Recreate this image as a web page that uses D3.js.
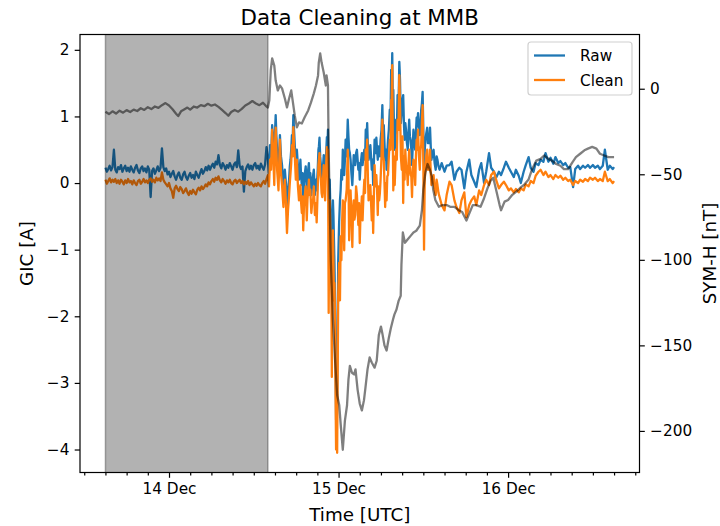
<!DOCTYPE html>
<html><head><meta charset="utf-8">
<script src="https://cdn.jsdelivr.net/npm/d3@7"></script>
<style>
body{margin:0;background:#fff}
svg{display:block}
text{font-family:"DejaVu Sans",sans-serif;fill:#000}
</style>
</head><body><svg id="chart" width="720" height="526"></svg>
<script>
// ---------------- data ----------------
const chartTitle = "Data Cleaning at MMB";
const xLabel = "Time [UTC]";
const yLeftLabel = "GIC [A]";
const yRightLabel = "SYM-H [nT]";
const seriesNames = ["Raw", "Clean"];
const startTime = "2006-12-13T15:00:00Z";   // hours below are counted from here
const flaggedSpanHours = [0, 23];            // shaded (removed) interval

const gicHours = [
 0,0.2,0.4,0.6,0.8,1.0,1.2,1.4,1.6,1.8, 2.0,2.2,2.4,2.6,2.8,3.0,3.2,3.4,3.6,3.8,
 4.0,4.2,4.4,4.6,4.8,5.0,5.2,5.4,5.6,5.8, 6.0,6.2,6.4,6.6,6.8,7.0,7.2,7.4,7.6,7.8,
 8.0,8.2,8.4,8.6,8.8,9.0,9.2,9.4,9.6,9.8, 10.0,10.2,10.4,10.6,10.8,11.0,11.2,11.4,11.6,11.8,
 12.0,12.2,12.4,12.6,12.8,13.0,13.2,13.4,13.6,13.8, 14.0,14.2,14.4,14.6,14.8,15.0,15.2,15.4,15.6,15.8,
 16.0,16.2,16.4,16.6,16.8,17.0,17.2,17.4,17.6,17.8, 18.0,18.2,18.4,18.6,18.8,19.0,19.2,19.4,19.6,19.8,
 20.0,20.2,20.4,20.6,20.8,21.0,21.2,21.4,21.6,21.8, 22.0,22.2,22.4,22.6,22.8,
 23.0,23.15,23.3,23.45,23.6,23.75,23.9,24.0,24.1,24.2, 24.3,24.4,24.5,24.6,24.7,24.85,25.0,25.1,25.2,25.3,
 25.4,25.55,25.7,25.85,26.0,26.1,26.2,26.3,26.4,26.5, 26.6,26.7,26.8,26.95,27.1,27.25,27.4,27.5,27.6,27.7,
 27.8,27.9,28.0,28.1,28.2,28.35,28.5,28.6,28.7,28.8, 28.9,29.0,29.15,29.3,29.4,29.5,29.65,29.8,29.9,30.05,
 30.15,30.22,30.3,30.4,30.5,30.6,30.7,30.8,30.9,31.0, 31.1,31.22,31.35,31.42,31.5,31.55,31.6,31.68,31.75,31.82,
 31.9,31.98,32.05,32.12,32.2,32.28,32.35,32.42,32.5,32.58, 32.65,32.72,32.8,32.88,32.95,33.08,33.2,33.3,33.4,33.5,
 33.6,33.7,33.8,33.9,34.0,34.15,34.3,34.4,34.5,34.6, 34.7,34.82,34.95,35.05,35.15,35.25,35.35,35.48,35.6,35.7,
 35.8,35.9,36.0,36.1,36.2,36.3,36.4,36.52,36.65,36.75, 36.85,36.95,37.05,37.15,37.25,37.38,37.5,37.6,37.7,37.8,
 37.9,38.0,38.1,38.22,38.35,38.45,38.55,38.65,38.75,38.85, 38.95,39.08,39.2,39.3,39.4,39.5,39.6,39.7,39.8,39.9,
 40.0,40.12,40.25,40.35,40.45,40.52,40.6,40.68,40.75,40.85, 40.95,41.05,41.15,41.25,41.35,41.48,41.6,41.65,41.7,41.82,
 41.95,42.05,42.15,42.25,42.35,42.45,42.55,42.68,42.8,42.9, 43.0,43.1,43.2,43.3,43.4,43.5,43.6,43.72,43.85,43.95,
 44.05,44.15,44.25,44.38,44.5,44.6,44.7,44.8,44.9,45.0, 45.1,45.2,45.3,45.42,45.55,45.65,45.75,45.85,45.95,46.05,
 46.15,46.3,46.45,46.6,46.75,46.88,47.0,47.15,47.3,
 47.6,48.0,48.3,48.7,49.0,49.4,49.7,50.1,50.4,50.8, 51.1,51.5,51.8,52.2,52.5,52.9,53.2,53.6,53.9,54.3,
 54.6,55.0,55.3,55.7,56.0,56.4,56.7,57.1,57.4,57.8, 58.1,58.5,58.8,59.2,59.5,59.9,60.2,60.6,60.9,61.3,
 61.6,62.0,62.3,62.7,63.0,63.4,63.7,64.1,64.4,64.8, 65.1,65.5,65.8,66.2,66.5,66.9,67.2,67.6,67.9,68.3,
 68.6,69.0,69.3,69.7,70.0,70.4,70.7,71.1,71.4,71.8, 72.0
];

const rawGIC = [
 0.23,0.17,0.21,0.26,0.19,0.24,0.50,0.20,0.16,0.24, 0.21,0.27,0.17,0.22,0.26,0.18,0.23,0.17,0.25,0.20,
 0.16,0.23,0.27,0.19,0.15,0.22,0.25,0.18,0.22,0.16, 0.25,0.20,-0.21,0.18,0.22,0.14,0.19,0.25,0.18,0.23,
 0.52,0.24,0.18,0.22,0.13,0.17,0.09,0.14,0.18,0.10, 0.05,0.12,0.16,0.08,0.05,0.13,0.17,0.09,0.05,0.11,
 0.15,0.08,0.12,0.06,0.17,0.12,0.08,0.15,0.21,0.14, 0.18,0.24,0.19,0.26,0.20,0.25,0.29,0.23,0.32,0.28,
 0.42,0.27,0.22,0.30,0.26,0.20,0.27,0.23,0.30,0.25, 0.20,0.28,0.31,0.24,0.49,0.26,0.21,0.25,-0.13,0.18,
 0.24,0.28,0.21,0.26,0.20,0.27,0.30,0.22,0.26,0.20, 0.29,0.24,0.20,0.28,0.54,
 0.35,0.15,0.57,0.40,0.87,0.65,0.50,0.75,1.02,0.70, 0.50,0.30,0.12,0.45,0.72,0.40,0.27,0.10,-0.11,0.10,
 0.20,0.00,-0.41,-0.10,0.05,0.25,0.35,0.50,0.72,0.60, 1.02,0.80,0.57,0.30,0.50,0.25,0.05,0.20,0.35,0.10,
 -0.03,0.15,-0.26,0.00,0.12,0.25,-0.11,0.10,0.20,0.30, 0.05,0.15,-0.18,0.05,0.12,0.20,-0.18,0.05,-0.11,0.20,
 0.50,0.55,0.68,0.40,0.27,0.10,0.05,0.25,0.42,0.20, 0.12,0.40,0.69,0.50,0.80,0.20,-0.26,-0.10,0.05,-0.30,
 -0.71,-0.40,-1.16,-0.60,-0.26,-0.50,-0.86,-1.20,-1.76,-2.60, -3.56,-2.80,-3.26,-2.20,-1.16,-0.60,-0.26,-0.10,0.20,0.05,
 0.50,0.30,0.12,0.35,0.65,0.40,0.95,0.70,0.50,0.45, 0.35,0.15,-0.03,0.20,0.42,0.30,0.27,0.45,0.50,0.35,
 0.20,0.30,0.05,0.25,0.35,0.45,0.27,0.40,0.50,0.35, 0.80,0.60,0.90,0.55,0.35,0.45,0.57,0.40,0.20,0.35,
 -0.03,0.30,0.65,0.45,0.68,0.50,0.35,0.55,0.50,0.40, 0.65,0.80,1.17,0.70,0.87,0.60,0.35,0.50,0.20,0.45,
 0.65,0.80,1.10,0.90,1.70,1.50,1.95,1.20,1.40,0.80, 0.50,0.70,0.95,0.75,1.32,1.10,1.82,1.70,1.55,0.90,
 1.10,1.25,1.32,0.90,0.65,0.90,0.80,0.60,0.50,0.75, 0.95,0.70,0.65,0.50,0.27,0.55,0.80,0.65,0.50,0.75,
 0.98,0.85,1.05,0.80,0.72,0.90,1.10,1.20,1.37,0.80, 0.20,0.50,0.65,0.75,0.83,0.60,0.72,0.60,0.83,0.55,
 0.35,0.45,0.50,0.30,0.20,0.40,0.35,0.25,0.20,
 0.30,0.17,0.26,0.27,0.32,0.05,0.17,0.23,0.20,-0.08, 0.17,0.35,0.12,0.02,-0.06,0.20,0.30,0.00,0.17,0.45,
 0.23,0.17,0.08,0.17,0.12,0.23,0.32,0.23,0.17,0.09, 0.20,0.11,0.00,0.17,0.27,0.39,0.23,0.17,0.30,0.27,
 0.35,0.32,0.45,0.32,0.38,0.29,0.39,0.30,0.33,0.27, 0.30,0.23,0.24,-0.06,0.21,0.26,0.21,0.26,0.23,0.27,
 0.23,0.27,0.23,0.26,0.21,0.26,0.50,0.20,0.26,0.21, 0.24
];

const cleanGIC = [
 0.05,-0.01,0.03,0.07,0.01,0.05,0.02,0.06,0.00,0.04, -0.01,0.05,0.02,-0.02,0.04,0.00,0.06,0.01,0.03,-0.02,
 0.04,0.00,-0.03,0.03,0.05,-0.01,0.02,0.06,0.01,0.04, 0.00,0.05,0.07,0.02,0.05,0.01,0.08,0.04,0.07,0.03,
 0.16,0.05,0.01,-0.02,-0.05,0.00,-0.08,-0.12,-0.22,-0.08, -0.04,-0.09,-0.12,-0.06,-0.09,-0.15,-0.12,-0.08,-0.14,-0.18,
 -0.12,-0.16,-0.10,-0.14,-0.17,-0.10,-0.07,-0.11,-0.05,-0.09, -0.06,-0.02,-0.05,0.01,-0.02,0.03,0.06,0.02,0.08,0.05,
 0.10,0.04,0.01,0.06,0.03,-0.01,0.04,0.01,0.05,0.00, -0.02,0.03,0.05,0.00,0.03,0.05,0.00,0.03,-0.02,0.02,
 -0.01,0.03,-0.03,0.01,-0.02,-0.05,-0.01,-0.04,0.00,-0.03, -0.05,0.00,0.03,-0.01,0.06,
 0.12,-0.05,0.35,0.20,0.80,0.45,-0.03,0.55,0.83,0.50, 0.20,0.05,-0.11,0.30,0.65,0.15,-0.03,-0.20,-0.36,-0.10,
 0.05,-0.30,-0.75,-0.40,-0.18,0.00,0.15,0.30,0.57,0.40, 0.84,0.55,0.42,0.05,0.35,-0.05,-0.26,-0.10,-0.03,-0.30,
 -0.45,-0.20,-0.71,-0.35,-0.21,-0.05,-0.56,-0.25,-0.11,0.05, -0.18,-0.10,-0.45,-0.25,-0.26,-0.05,-0.48,-0.30,-0.59,-0.10,
 0.27,0.35,0.45,0.15,0.05,-0.15,-0.21,0.05,0.27,-0.05, -0.26,0.20,0.54,0.30,0.50,-0.60,-1.95,-0.80,-0.26,-0.60,
 -1.16,-1.60,-2.91,-1.50,-0.71,-1.20,-1.76,-1.50,-2.06,-3.20, -4.00,-3.50,-4.05,-2.80,-1.71,-1.20,-1.76,-0.80,-1.16,-0.60,
 -0.26,-0.40,-1.01,-0.30,-0.26,-0.10,0.50,0.10,-0.86,-0.20, -0.11,-0.50,-0.96,-0.40,-0.26,-0.55,-0.48,-0.05,-0.18,-0.40,
 -0.63,-0.30,-0.90,-0.50,-0.41,-0.20,-0.56,-0.20,0.05,-0.15, 0.50,0.20,0.65,0.10,-0.26,-0.10,-0.03,-0.30,-0.56,-0.20,
 -0.75,-0.20,0.27,-0.05,0.12,-0.10,-0.48,-0.05,-0.26,-0.15, 0.05,0.40,0.95,0.40,0.35,0.00,-0.36,0.00,-0.26,0.10,
 0.12,0.40,0.65,0.50,1.25,1.20,1.77,0.60,-0.11,0.40, -0.03,0.30,0.50,0.35,0.95,0.80,1.62,1.40,1.17,0.40,
 0.20,0.70,-0.30,0.40,0.05,0.50,0.27,0.20,-0.03,0.30, 0.50,0.25,0.12,0.10,-0.21,0.20,0.35,0.30,-0.03,0.40,
 0.65,0.50,0.80,0.40,0.20,0.50,0.57,0.90,1.17,0.30, -1.00,0.10,0.20,0.40,0.50,0.20,0.35,0.20,0.50,0.15,
 -0.03,0.05,0.12,-0.10,-0.18,0.05,-0.03,-0.15,-0.21,
 -0.33,-0.41,-0.18,0.02,-0.03,-0.26,-0.36,-0.45,-0.26,-0.14, -0.51,-0.33,-0.26,-0.20,-0.33,-0.11,-0.18,-0.03,0.05,-0.03,
 0.12,0.17,0.05,-0.08,-0.03,0.02,-0.03,-0.11,-0.08,-0.14, -0.09,-0.14,-0.08,-0.11,-0.02,-0.05,0.03,0.00,0.11,0.17,
 0.20,0.12,0.17,0.09,0.12,0.06,0.12,0.08,0.11,0.05, 0.08,0.03,0.05,-0.03,0.03,0.00,0.05,0.02,0.06,0.03,
 0.08,0.05,0.08,0.03,0.06,0.03,0.17,0.03,0.06,0.00, 0.03
];

const symHours = [
 0,0.5,1.0,1.5,2.0,2.5,3.0,3.5,4.0,4.5, 5.0,5.5,6.0,6.5,7.0,7.5,8.0,8.5,9.0,9.5,
 10.0,10.3,10.7,11.2,11.6,12.0,12.5,13.0,13.5,14.0, 14.5,15.0,15.5,16.0,16.5,17.0,17.4,17.8,18.3,18.8,
 19.3,19.8,20.3,20.8,21.3,21.8,22.3,22.7,23.0,23.2, 23.4,23.6,23.9,24.1,24.4,24.7,25.0,25.4,25.7,26.0,
 26.3,26.5,26.8,27.1,27.4,27.8,28.2,28.7,29.1,29.5, 29.8,30.1,30.2,30.4,30.6,30.9,31.2,31.3,31.5,31.6,
 31.9,32.2,32.5,32.8,33.1,33.3,33.6,33.9,34.2,34.4, 34.6,34.9,35.2,35.4,35.7,36.0,36.3,36.6,36.8,37.1,
 37.4,37.7,38.1,38.4,38.7,39.0,39.2,39.5,39.8,40.1, 40.4,40.7,40.9,41.2,41.5,41.8,41.9,42.1,42.4,42.8,
 43.2,43.6,44.0,44.5,44.8,45.0,45.3,45.6,45.9,46.2, 46.4,46.7,47.2,47.7,48.3,48.8,49.4,50.0,50.5,51.1,
 51.5,52.0,52.5,53.1,53.6,54.1,54.5,54.9,55.3,55.8, 56.0,56.5,57.0,57.6,58.2,58.7,59.3,59.9,60.4,61.0,
 61.6,62.1,62.7,63.2,63.8,64.4,64.9,65.5,66.1,66.6, 67.2,67.8,68.3,68.9,69.5,70.0,70.6,71.2,71.7,72.0
];

const symH = [
 -13.5,-14.8,-13.2,-14.5,-12.8,-14.0,-12.5,-13.6,-12.2,-13.0, -11.4,-12.4,-10.8,-11.9,-10.4,-11.2,-9.6,-8.4,-9.8,-12.0,
 -14.6,-16.0,-13.2,-12.0,-11.0,-12.2,-10.4,-11.0,-9.6,-10.2, -8.8,-9.9,-9.2,-10.6,-12.4,-14.2,-15.8,-13.6,-12.4,-13.4,
 -11.8,-9.8,-8.6,-7.2,-8.6,-9.6,-8.2,-10.0,-11.0,-6.8, 10.7,17.7,13.6,4.8,-1.0,1.9,0.2,-5.7,-10.9,-5.7,
 -1.0,-6.8,-15.6,-22.6,-19.7,-20.3,-16.7,-12.7,-8.0,-2.7, 1.9,7.8,15.3,20.6,15.3,9.5,1.9,7.8,1.9,-36,
 -100,-135,-158,-179,-185,-196,-211,-194,-185,-170, -162,-166,-167,-164,-176,-184,-188,-182,-175,-164,
 -157,-160,-163,-159,-144,-139,-143,-150,-153,-146, -140,-135,-132,-129,-124,-121,-103,-84,-90,-88,
 -86,-84,-83,-80,-71,-59,-49,-44,-47,-51, -59,-65,-69,-68,-68,-69,-69,-71,-72,-77,
 -73,-68,-68,-69,-64,-58,-54,-52,-59,-68, -71,-66,-65,-62,-60,-58,-56,-53,-47,-42,
 -41,-39,-41,-42,-44,-45,-47,-47,-43,-40, -38,-36,-35,-34,-35,-38,-39,-40,-40,-40
];

const gicTicks = [-4, -3, -2, -1, 0, 1, 2];
const symTicks = [-200, -150, -100, -50, 0];
const dayTicks = ["2006-12-14T00:00:00Z", "2006-12-15T00:00:00Z", "2006-12-16T00:00:00Z"];

// ---------------- drawing ----------------
if (gicHours.length !== rawGIC.length || gicHours.length !== cleanGIC.length) console.error("GIC length mismatch", gicHours.length, rawGIC.length, cleanGIC.length);
if (symHours.length !== symH.length) console.error("SYM length mismatch", symHours.length, symH.length);

const svg = d3.select("#chart");
const L = 80, R = 639.5, T = 34.5, B = 472.5;
const H = 3600e3;
const t0 = new Date(startTime).getTime();
const toDate = h => new Date(t0 + h * H);

const x = d3.scaleUtc().domain([toDate(-3.6), toDate(75.6)]).range([L, R]);
const yL = d3.scaleLinear().domain([-4.345, 2.23]).range([B, T]);
const yR = d3.scaleLinear().domain([-224.3, 31.7]).range([B, T]);

svg.append("defs").append("clipPath").attr("id", "clip")
  .append("rect").attr("x", L).attr("y", T).attr("width", R - L).attr("height", B - T);

const plot = svg.append("g").attr("clip-path", "url(#clip)");
const colors = ["#1f77b4", "#ff7f0e"];
const gicSeries = [rawGIC, cleanGIC];

gicSeries.forEach((vals, i) => {
  const line = d3.line().x((d, j) => x(toDate(gicHours[j]))).y(d => yL(d));
  plot.append("path").datum(vals).attr("d", line)
    .attr("fill", "none").attr("stroke", colors[i]).attr("stroke-width", 2.3)
    .attr("stroke-linejoin", "round");
});

const symLine = d3.line().x((d, j) => x(toDate(symHours[j]))).y(d => yR(d));
plot.append("path").datum(symH).attr("d", symLine)
  .attr("fill", "none").attr("stroke", "#000").attr("stroke-opacity", 0.5)
  .attr("stroke-width", 2.3).attr("stroke-linejoin", "round");

// shaded span
const sx0 = x(toDate(flaggedSpanHours[0])), sx1 = x(toDate(flaggedSpanHours[1]));
plot.append("rect").attr("x", sx0).attr("y", T).attr("width", sx1 - sx0).attr("height", B - T)
  .attr("fill", "#000").attr("fill-opacity", 0.3);
[sx0, sx1].forEach(sx => plot.append("line").attr("x1", sx).attr("x2", sx).attr("y1", T).attr("y2", B)
  .attr("stroke", "#000").attr("stroke-opacity", 0.3).attr("stroke-width", 1.5));

// axes
const FS = 15.3;
function styleAxis(g) {
  g.select(".domain").remove();
  g.selectAll(".tick line").attr("stroke", "#000").attr("stroke-width", 1.2);
  g.selectAll(".tick text").attr("font-size", FS).attr("font-family", "DejaVu Sans").attr("fill", "#000");
}
const fmtMinus = d => (d < 0 ? "\u2212" + Math.abs(d) : "" + d);

svg.append("g").attr("transform", `translate(${L},0)`)
  .call(d3.axisLeft(yL).tickValues(gicTicks).tickFormat(fmtMinus).tickSize(5.3).tickPadding(5.3))
  .call(styleAxis);

svg.append("g").attr("transform", `translate(${R},0)`)
  .call(d3.axisRight(yR).tickValues(symTicks).tickFormat(fmtMinus).tickSize(5.3).tickPadding(5.3))
  .call(styleAxis);

const majors = dayTicks.map(d => new Date(d));
const minors = d3.utcHour.every(3).range(x.domain()[0], x.domain()[1])
  .filter(d => !majors.some(m => +m === +d));
svg.append("g").attr("transform", `translate(0,${B})`)
  .call(d3.axisBottom(x).tickValues(minors).tickFormat("").tickSize(3).tickSizeOuter(0))
  .call(styleAxis);
svg.append("g").attr("transform", `translate(0,${B})`)
  .call(d3.axisBottom(x).tickValues(majors).tickFormat(d3.utcFormat("%d %b")).tickSize(5.3).tickPadding(5.3))
  .call(styleAxis);

// frame
svg.append("rect").attr("x", L).attr("y", T).attr("width", R - L).attr("height", B - T)
  .attr("fill", "none").attr("stroke", "#000").attr("stroke-width", 1.2);

// titles
svg.append("text").attr("x", (L + R) / 2).attr("y", 25).attr("text-anchor", "middle")
  .attr("font-size", 21.4).text(chartTitle);
svg.append("text").attr("x", (L + R) / 2).attr("y", 521).attr("text-anchor", "middle")
  .attr("font-size", 18.3).text(xLabel);
svg.append("text").attr("transform", `translate(33,${(T + B) / 2}) rotate(-90)`)
  .attr("text-anchor", "middle").attr("font-size", 18.3).text(yLeftLabel);
svg.append("text").attr("transform", `translate(716,${(T + B) / 2}) rotate(-90)`)
  .attr("text-anchor", "middle").attr("font-size", 18.3).text(yRightLabel);

// legend
const lg = svg.append("g");
lg.append("rect").attr("x", 528).attr("y", 42).attr("width", 104).attr("height", 53).attr("rx", 3)
  .attr("fill", "#fff").attr("fill-opacity", 0.8).attr("stroke", "#d0d0d0").attr("stroke-width", 1.2);
seriesNames.forEach((n, i) => {
  const yy = 55.5 + i * 24.5;
  lg.append("line").attr("x1", 534).attr("x2", 565).attr("y1", yy).attr("y2", yy)
    .attr("stroke", colors[i]).attr("stroke-width", 2.3);
  lg.append("text").attr("x", 580).attr("y", yy + 5.5).attr("font-size", FS).text(n);
});
</script>
</body></html>
